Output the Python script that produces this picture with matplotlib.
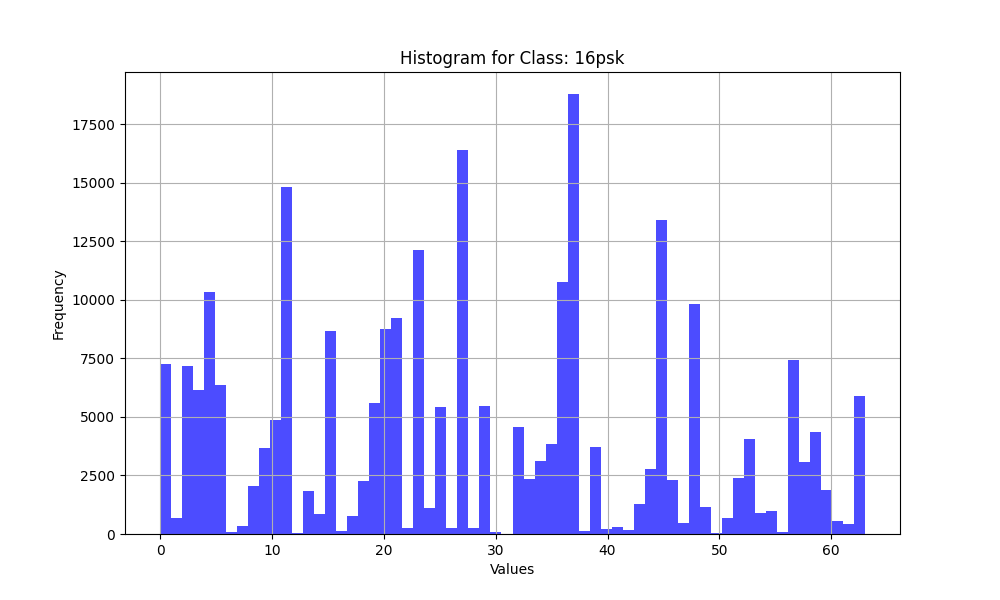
import matplotlib.pyplot as plt
import numpy as np

# symbol values 0..63 and the count seen for each one
values = np.arange(64)
counts = [7265, 698, 7180, 6154, 10342, 6367, 85, 356, 2051, 3675,
          4872, 14829, 43, 1838, 855, 8675, 128, 775, 2265, 5598,
          8761, 9231, 256, 12137, 1111, 5427, 256, 16410, 256, 5470,
          85, 0, 4573, 2365, 3120, 3846, 10769, 18803, 128, 3718,
          214, 299, 171, 1282, 2778, 13419, 2308, 470, 9829, 1154,
          43, 684, 2393, 4060, 897, 983, 85, 7436, 3077, 4359,
          1880, 556, 427, 5897]

class_name = '16psk'

fig = plt.figure(figsize=(10, 6), dpi=100)
plt.hist(values, bins=64, range=(0, 63), weights=counts, color='blue', alpha=0.7)
plt.title('Histogram for Class: %s' % class_name)
plt.xlabel('Values')
plt.ylabel('Frequency')
plt.grid(True)
plt.savefig('out.png')
